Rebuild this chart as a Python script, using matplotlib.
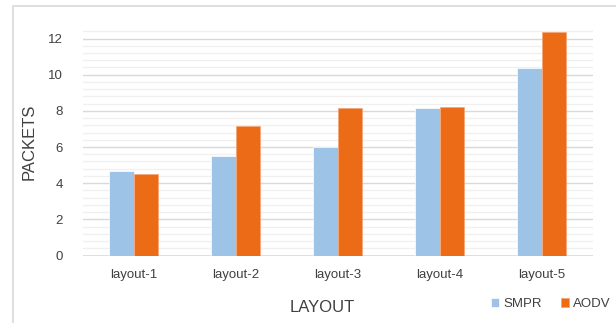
import numpy as np
import matplotlib
matplotlib.use("Agg")
import matplotlib.pyplot as plt
from matplotlib.patches import Rectangle
from matplotlib.ticker import FixedLocator

plt.rcParams['font.family'] = ['Liberation Sans Narrow', 'Liberation Sans', 'DejaVu Sans']

categories = ["layout-1", "layout-2", "layout-3", "layout-4", "layout-5"]
series_names = ["SMPR", "AODV"]
smpr = [4.7, 5.5, 6.0, 8.15, 10.38]
aodv = [4.5, 7.15, 8.15, 8.2, 12.35]
y_ticks = [0, 2, 4, 6, 8, 10, 12]

blue = "#9dc3e6"
orange = "#eb6b16"
text_col = "#404040"

fig = plt.figure(figsize=(6.16, 3.23), dpi=100)
fig.patch.set_facecolor("white")
fig.patches.append(Rectangle((12.5 / 616, -0.1), 1.2, (1 - 5.5 / 323) + 0.1,
                             transform=fig.transFigure, fill=False,
                             edgecolor="#d9d9d9", lw=1.2))

ax = fig.add_axes([82.5 / 616, 1 - 255.5 / 323, 510 / 616, 226 / 323])

x = np.arange(len(categories))
w = 0.245
b1 = ax.bar(x - w / 2, smpr, w, color=blue, edgecolor="white", linewidth=0.5, label=series_names[0], zorder=3)
b2 = ax.bar(x + w / 2, aodv, w, color=orange, edgecolor="#f3a577", linewidth=0.5, label=series_names[1], zorder=3)

ax.set_xlim(-0.5, len(categories) - 0.5)
ax.set_ylim(0, 12.5)
ax.set_yticks(y_ticks)
ax.yaxis.set_minor_locator(FixedLocator(np.round(np.arange(0, 12.41, 0.4), 2)))
ax.set_xticks(x)
ax.set_xticklabels(categories)

ax.grid(axis="y", which="major", color="#d9d9d9", lw=1.0, zorder=1)
ax.grid(axis="y", which="minor", color="#f0f0f0", lw=1.0, zorder=0)
for s in ax.spines.values():
    s.set_visible(False)
ax.axhline(0, color="#d9d9d9", lw=1.2, zorder=2)

ax.tick_params(axis="both", which="both", length=0, colors=text_col, labelsize=9.5)
ax.tick_params(axis="y", pad=14)
ax.tick_params(axis="x", pad=10)

fig.text(29 / 616, 1 - 142 / 323, "PACKETS", rotation=90, ha="center", va="center",
         fontsize=12, color=text_col)
fig.text(322 / 616, 1 - 307 / 323, "LAYOUT", ha="center", va="center",
         fontsize=12, color=text_col)

fig.legend(handles=[b1, b2], labels=series_names, ncol=2, frameon=False,
           loc="center", bbox_to_anchor=(551 / 616, 1 - 304 / 323),
           handlelength=0.6, handleheight=0.6, handletextpad=0.3, columnspacing=1.5,
           fontsize=9.5, labelcolor=text_col)

fig.savefig("out.png", dpi=100)
